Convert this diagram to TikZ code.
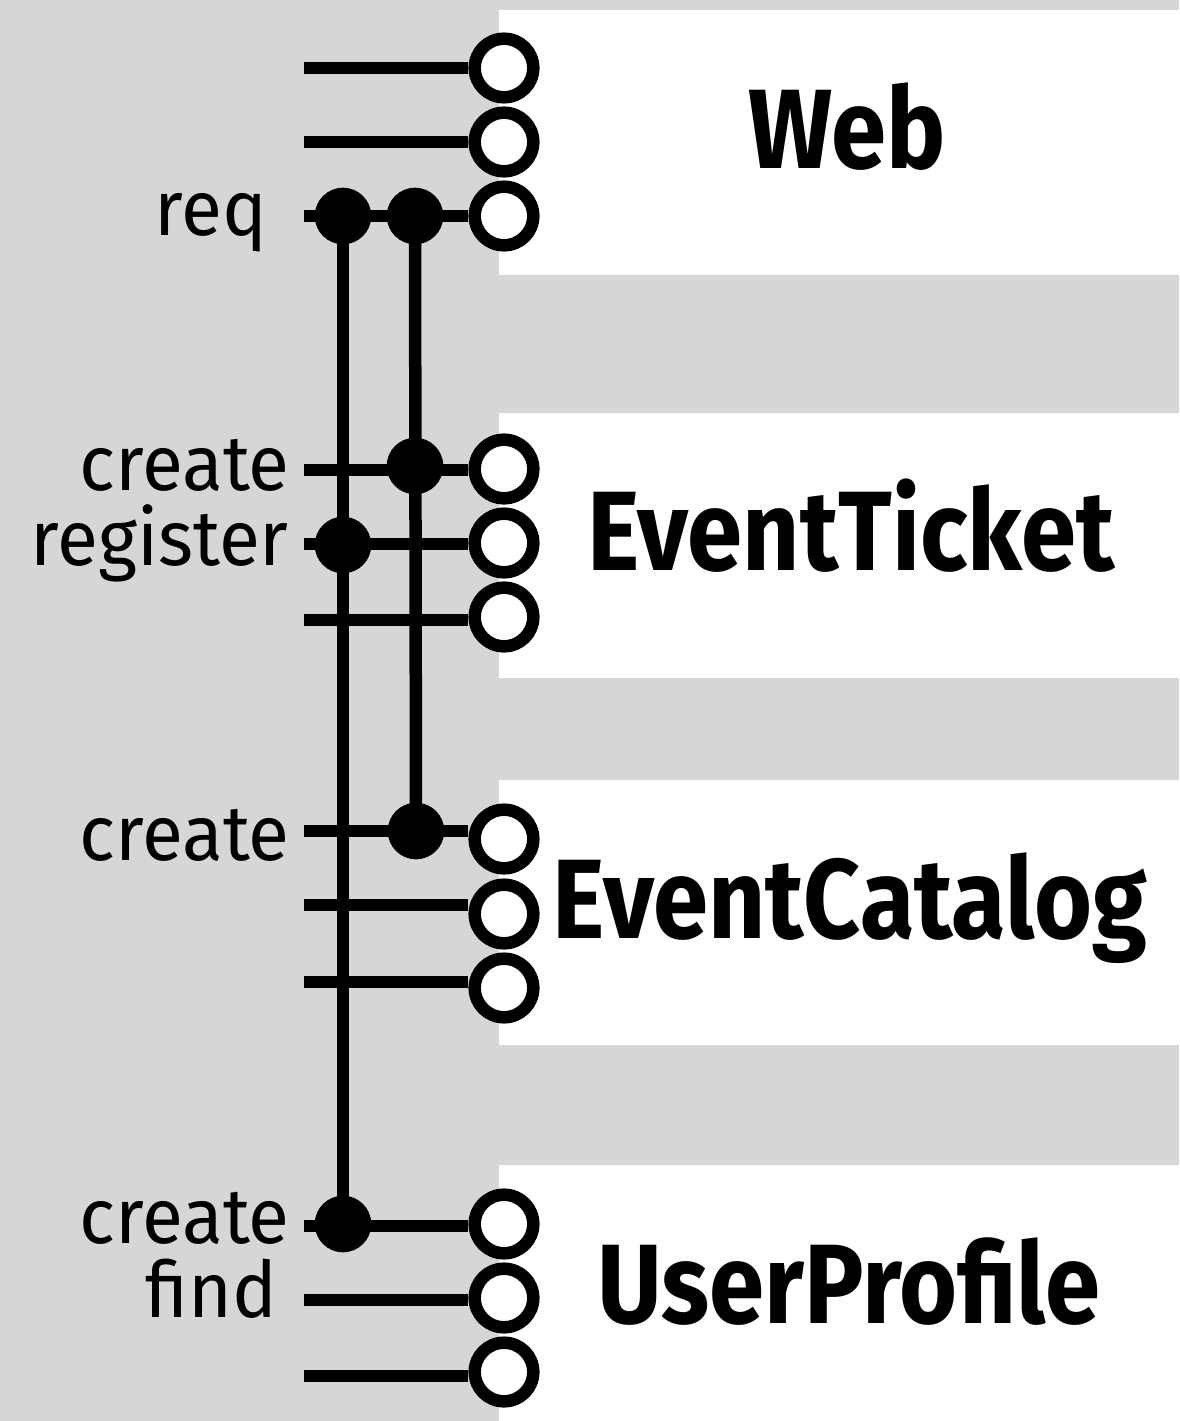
\documentclass[tikz,border=0pt]{standalone}
\usepackage{fontspec}
\setmainfont{Fira Sans}[FakeStretch=0.96]
\newfontfamily\compfont{Fira Sans}[FakeStretch=0.88]
\usepackage{xcolor}
\usepackage{tikz}
\usetikzlibrary{positioning}
\definecolor{panelgray}{HTML}{D6D6D6}
\tikzset{
  wire/.style={line width=12.5pt},
  port/.style={circle, draw, line width=12.5pt, fill=white, minimum size=58.6pt, inner sep=0pt},
  joint/.style={circle, fill, minimum size=56.6pt, inner sep=0pt},
  oplabel/.style={anchor=base east, inner sep=0pt, font=\fontsize{78}{80}\selectfont},
  complabel/.style={anchor=base, inner sep=0pt, font=\compfont\bfseries\fontsize{113}{115}\selectfont}
}

\begin{document}
\begin{tikzpicture}[x=1pt, y=-1pt]
\useasboundingbox (0,0) rectangle (1179,1421);
\fill[panelgray] (0,0) rectangle (1179,1421);
\fill[white] (499,10) rectangle (1179,275);
\fill[white] (499,413) rectangle (1179,678);
\fill[white] (499,780) rectangle (1179,1045);
\fill[white] (499,1165) rectangle (1179,1421);

\node[complabel] (web) at (847,168) {Web};
\node[complabel] (ticket) at (851,570) {EventTicket};
\node[complabel] (catalog) at (850,938) {EventCatalog};
\node[complabel] (profile) at (849,1323) {UserProfile};

\node[port] (w1) at (504,68) {};
\node[port] (w2) at (504,142) {};
\node[port] (w3) at (504,216) {};
\node[port] (t1) at (504,469) {};
\node[port] (t2) at (504,543) {};
\node[port] (t3) at (504,617) {};
\node[port] (c1) at (504,839) {};
\node[port] (c2) at (504,914) {};
\node[port] (c3) at (504,988) {};
\node[port] (p1) at (504,1224) {};
\node[port] (p2) at (504,1298) {};
\node[port] (p3) at (504,1372) {};

\coordinate (w1l) at (304,68);
\coordinate (w2l) at (304,142);
\coordinate (w3l) at (304,216);
\coordinate (t1l) at (304,470);
\coordinate (t2l) at (304,544);
\coordinate (t3l) at (304,620);
\coordinate (c1l) at (304,831);
\coordinate (c2l) at (304,905);
\coordinate (c3l) at (304,982);
\coordinate (p1l) at (304,1226);
\coordinate (p2l) at (304,1300);
\coordinate (p3l) at (304,1376);

\draw[wire] (w1l) -- (w1l -| w1.west);
\draw[wire] (w2l) -- (w2l -| w2.west);
\draw[wire] (w3l) -- (w3l -| w3.west);
\draw[wire] (t1l) -- (t1l -| t1.west);
\draw[wire] (t2l) -- (t2l -| t2.west);
\draw[wire] (t3l) -- (t3l -| t3.west);
\draw[wire] (c1l) -- (c1l -| c1.west);
\draw[wire] (c2l) -- (c2l -| c2.west);
\draw[wire] (c3l) -- (c3l -| c3.west);
\draw[wire] (p1l) -- (p1l -| p1.west);
\draw[wire] (p2l) -- (p2l -| p2.west);
\draw[wire] (p3l) -- (p3l -| p3.west);

\node[joint] (ja) at (343,216) {};
\node[joint] (jb) at (415,216) {};
\node[joint] (jc) at (415,466) {};
\node[joint] (jd) at (343,545) {};
\node[joint] (je) at (416,831) {};
\node[joint] (jf) at (343,1224) {};

\draw[wire] (ja.center) -- (jf.center);
\draw[wire] (jb.center) -- (je.center);

\node[oplabel] (req) at (267,235) {req};
\node[oplabel] (tcreate) at (290,490) {create};
\node[oplabel] (tregister) at (289,565) {register};
\node[oplabel] (ccreate) at (290,860) {create};
\node[oplabel] (pcreate) at (290,1243) {create};
\node[oplabel] (pfind) at (277,1317) {find};
\end{tikzpicture}
\end{document}
